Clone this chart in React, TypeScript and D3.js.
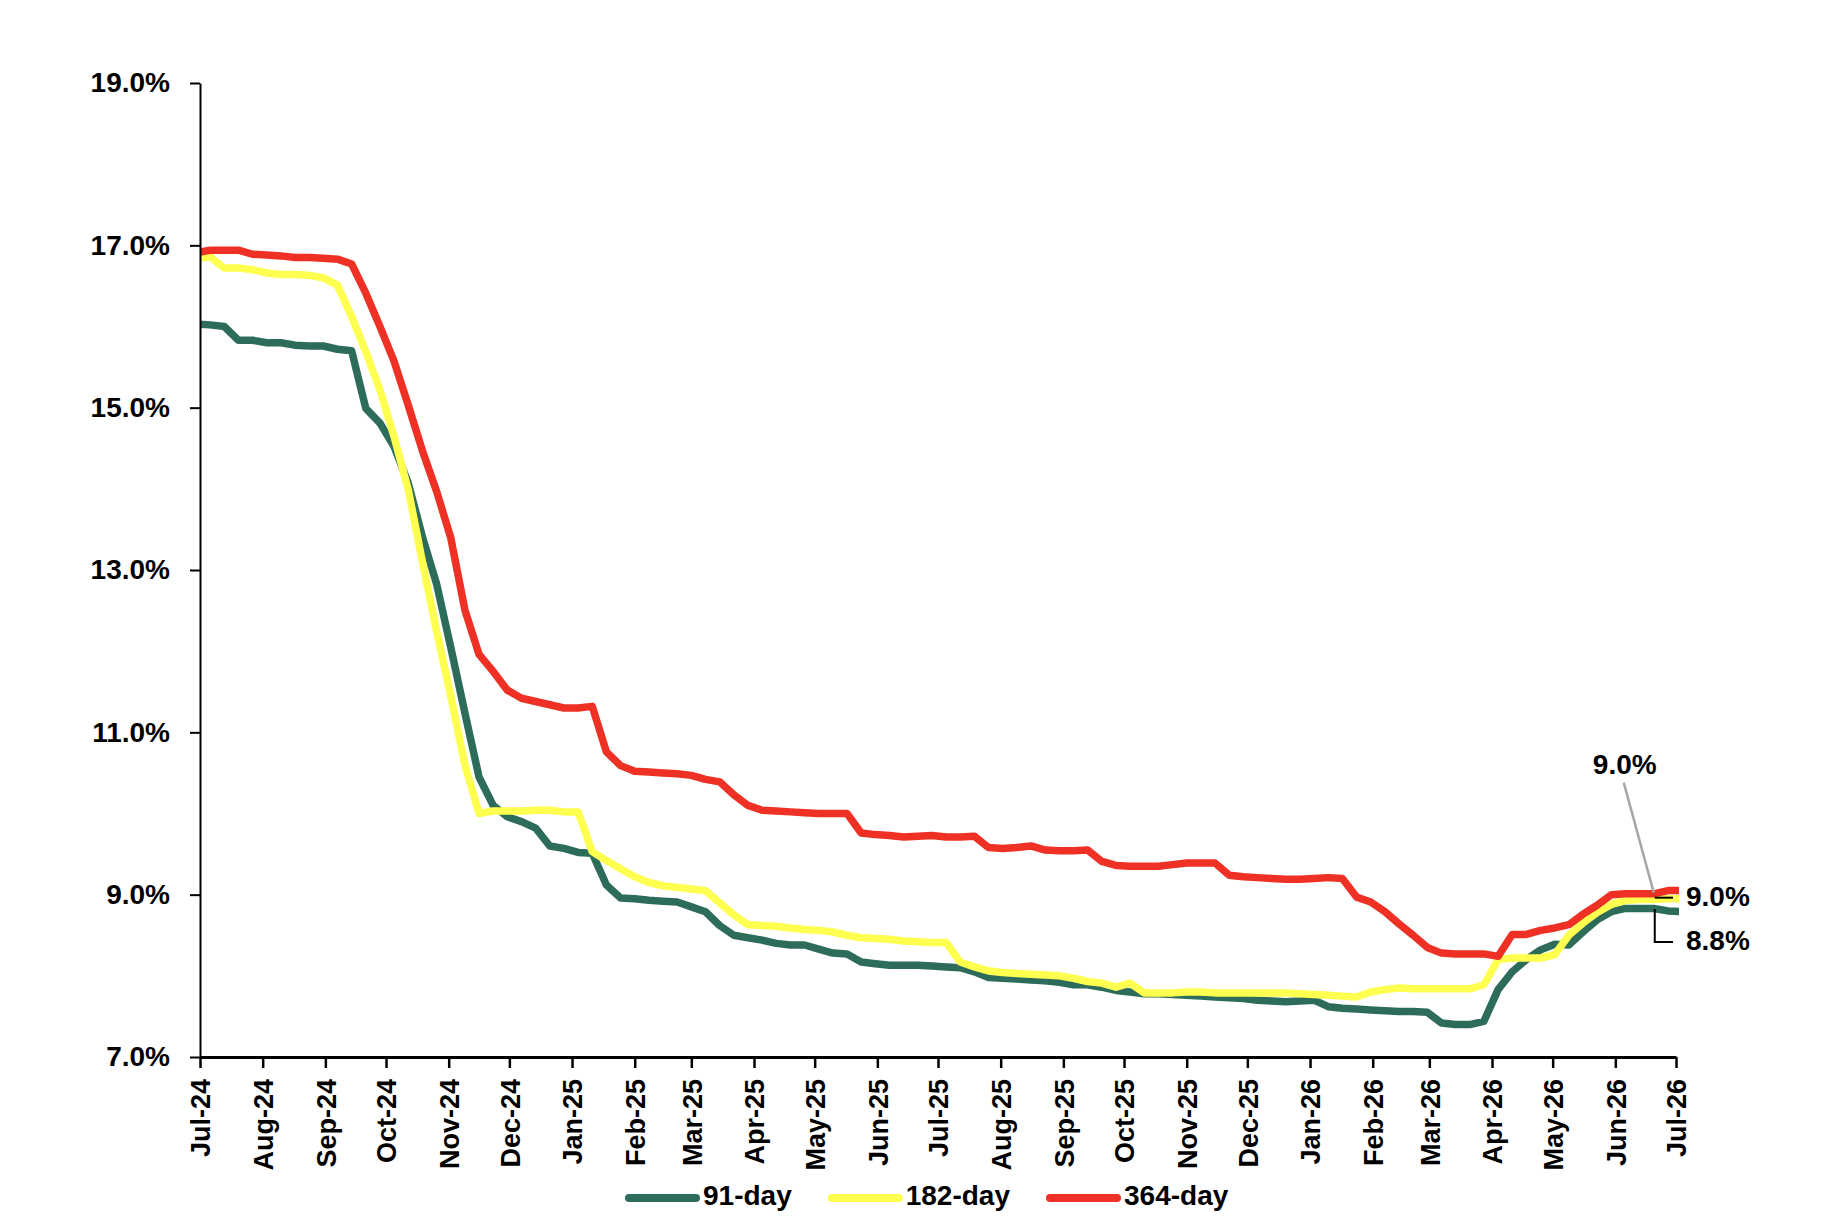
import { useEffect, useRef } from 'react';
import * as d3 from 'd3';

// weekly auction results, first value is the week ending 29 Jun 2024
const FIRST_AUCTION = '2024-06-29';
const X_START = '2024-07-01';
const X_END = '2026-07-01';

const rate91 = [
  16.03, 16.02, 16.0, 15.83, 15.83, 15.8, 15.8, 15.77, 15.76, 15.76,
  15.72, 15.7, 14.99, 14.81, 14.52, 14.07, 13.41, 12.83, 12.05, 11.24,
  10.45, 10.1, 9.96, 9.9, 9.82, 9.6, 9.57, 9.52, 9.51, 9.12,
  8.96, 8.95, 8.93, 8.92, 8.91, 8.85, 8.79, 8.62, 8.5, 8.47,
  8.44, 8.4, 8.38, 8.38, 8.33, 8.28, 8.27, 8.17, 8.15, 8.13,
  8.13, 8.13, 8.12, 8.11, 8.1, 8.05, 7.98, 7.97, 7.96, 7.95,
  7.94, 7.92, 7.89, 7.89, 7.86, 7.82, 7.8, 7.78, 7.78, 7.77,
  7.76, 7.75, 7.74, 7.73, 7.72, 7.7, 7.69, 7.68, 7.69, 7.7,
  7.62, 7.6, 7.59, 7.58, 7.57, 7.56, 7.56, 7.55, 7.42, 7.4,
  7.4, 7.44, 7.83, 8.05, 8.2, 8.32, 8.39, 8.38, 8.54, 8.69,
  8.79, 8.83, 8.83, 8.83, 8.8, 8.79,
];

const rate182 = [
  16.84, 16.86, 16.72, 16.72, 16.7, 16.66, 16.64, 16.64, 16.63, 16.6,
  16.51, 16.12, 15.69, 15.22, 14.64, 13.99, 13.1, 12.25, 11.45, 10.6,
  10.0, 10.03, 10.03, 10.03, 10.04, 10.04, 10.02, 10.02, 9.53, 9.42,
  9.32, 9.22, 9.15, 9.11, 9.09, 9.07, 9.05, 8.9, 8.75, 8.63,
  8.62, 8.61, 8.59, 8.57, 8.56, 8.54, 8.5, 8.47, 8.46, 8.45,
  8.43, 8.42, 8.41, 8.41, 8.17, 8.11, 8.06, 8.04, 8.03, 8.02,
  8.01, 8.0, 7.97, 7.93, 7.91, 7.86, 7.91, 7.79, 7.79, 7.79,
  7.8, 7.8, 7.79, 7.79, 7.79, 7.79, 7.79, 7.79, 7.78, 7.77,
  7.76, 7.75, 7.74, 7.8, 7.83, 7.85, 7.84, 7.84, 7.84, 7.84,
  7.84, 7.89, 8.2, 8.22, 8.22, 8.22, 8.26, 8.5, 8.65, 8.78,
  8.88, 8.93, 8.94, 8.94, 8.95, 8.95,
];

const rate364 = [
  16.91, 16.94, 16.94, 16.94, 16.89, 16.88, 16.87, 16.85, 16.85, 16.84,
  16.83, 16.77, 16.41, 16.0, 15.57, 15.03, 14.47, 13.97, 13.4, 12.51,
  11.96, 11.75, 11.52, 11.42, 11.38, 11.34, 11.3, 11.3, 11.32, 10.76,
  10.59, 10.52, 10.51, 10.5, 10.49, 10.47, 10.42, 10.39, 10.23, 10.1,
  10.04, 10.03, 10.02, 10.01, 10.0, 10.0, 10.0, 9.76, 9.74, 9.73,
  9.71, 9.72, 9.73, 9.71, 9.71, 9.72, 9.58, 9.57, 9.58, 9.6,
  9.55, 9.54, 9.54, 9.55, 9.41, 9.36, 9.35, 9.35, 9.35, 9.37,
  9.39, 9.39, 9.39, 9.24, 9.22, 9.21, 9.2, 9.19, 9.19, 9.2,
  9.21, 9.2, 8.97, 8.91, 8.79, 8.64, 8.5, 8.35, 8.28, 8.27,
  8.27, 8.27, 8.24, 8.51, 8.51, 8.56, 8.59, 8.63, 8.76, 8.87,
  9.0, 9.01, 9.01, 9.01, 9.05, 9.05,
];

const seriesNames = ['91-day', '182-day', '364-day'];
const seriesColors = ['#2D6B5B', '#FFFF4F', '#EE3124'];
const yTicks = [7, 9, 11, 13, 15, 17, 19];

// end-of-period callouts
const calloutDate = '2026-06-20';
const callout182 = { value: 9.0, text: '9.0%' };
const callout364 = { value: 9.0, text: '9.0%' };
const callout91 = { value: 8.8, text: '8.8%' };

const FONT = '"Liberation Sans", Arial, sans-serif';

export default function App() {
  const svgRef = useRef<SVGSVGElement>(null);

  useEffect(() => {
    if (!svgRef.current) return;
    const svg = d3.select(svgRef.current);
    svg.selectAll('*').remove();

    const parse = d3.timeParse('%Y-%m-%d');
    const first = parse(FIRST_AUCTION) as Date;
    const dates = rate91.map((_, i) => d3.timeDay.offset(first, 7 * i));

    const left = 200;
    const right = 1676;
    const top = 83;
    const bottom = 1057;

    const x = d3.scaleTime()
      .domain([parse(X_START) as Date, parse(X_END) as Date])
      .range([left, right]);

    const y = d3.scaleLinear()
      .domain([7, 19])
      .range([bottom, top]);

    svg.append('defs')
      .append('clipPath')
      .attr('id', 'plot-clip')
      .append('rect')
      .attr('x', left)
      .attr('y', top - 20)
      .attr('width', right - left + 3)
      .attr('height', bottom - top + 20);

    // Lines
    const series = [rate91, rate182, rate364];
    const line = d3.line<number>()
      .x((_, i) => x(dates[i]))
      .y(d => y(d));

    const lines = svg.append('g').attr('clip-path', 'url(#plot-clip)');
    series.forEach((vals, s) => {
      lines.append('path')
        .datum(vals)
        .attr('fill', 'none')
        .attr('stroke', seriesColors[s])
        .attr('stroke-width', 7.5)
        .attr('stroke-linejoin', 'round')
        .attr('d', line);
    });

    // Y Axis
    const yAxis = svg.append('g')
      .attr('transform', `translate(${left},0)`)
      .call(
        d3.axisLeft(y)
          .tickValues(yTicks)
          .tickFormat(d => `${(d as number).toFixed(1)}%`)
          .tickSize(10)
          .tickSizeOuter(0)
          .tickPadding(20)
      );
    yAxis.select('.domain').attr('stroke', '#000').attr('stroke-width', 2);
    yAxis.selectAll('.tick line').attr('stroke', '#000').attr('stroke-width', 2);
    yAxis.selectAll('text')
      .style('font-family', FONT)
      .style('font-size', '28px')
      .style('font-weight', 'bold')
      .style('fill', '#000');

    // X Axis
    const xAxis = svg.append('g')
      .attr('transform', `translate(0,${bottom})`)
      .call(
        d3.axisBottom(x)
          .ticks(d3.timeMonth.every(1))
          .tickFormat(d3.timeFormat('%b-%y') as never)
          .tickSize(11)
          .tickSizeOuter(0)
      );
    xAxis.select('.domain').attr('stroke', '#000').attr('stroke-width', 3);
    xAxis.selectAll('.tick line').attr('stroke', '#000').attr('stroke-width', 2.5);
    xAxis.selectAll('text')
      .attr('transform', 'rotate(-90)')
      .attr('x', -22)
      .attr('y', 0)
      .attr('dy', '0.36em')
      .attr('text-anchor', 'end')
      .style('font-family', FONT)
      .style('font-size', '27px')
      .style('font-weight', 'bold')
      .style('fill', '#000');

    // Callouts
    const ax = x(parse(calloutDate) as Date);
    const ann = svg.append('g')
      .style('font-family', FONT)
      .style('font-size', '28px')
      .style('font-weight', 'bold')
      .style('fill', '#000');

    svg.append('line')
      .attr('x1', ax - 30)
      .attr('y1', y(callout182.value) - 112)
      .attr('x2', ax)
      .attr('y2', y(callout182.value) - 2)
      .attr('stroke', '#A6A6A6')
      .attr('stroke-width', 2.5);

    ann.append('text')
      .attr('x', ax - 29)
      .attr('y', y(callout182.value) - 128)
      .attr('text-anchor', 'middle')
      .attr('dominant-baseline', 'middle')
      .text(callout182.text);

    svg.append('line')
      .attr('x1', ax + 1)
      .attr('y1', y(callout364.value) + 3)
      .attr('x2', right - 3)
      .attr('y2', y(callout364.value) + 3)
      .attr('stroke', '#000')
      .attr('stroke-width', 2);

    ann.append('text')
      .attr('x', right + 10)
      .attr('y', y(callout364.value) + 4)
      .attr('dominant-baseline', 'middle')
      .text(callout364.text);

    svg.append('path')
      .attr('d', `M${ax + 1},${y(callout91.value) - 2}V${y(callout91.value) + 31}H${right - 3}`)
      .attr('fill', 'none')
      .attr('stroke', '#000')
      .attr('stroke-width', 2);

    ann.append('text')
      .attr('x', right + 10)
      .attr('y', y(callout91.value) + 32)
      .attr('dominant-baseline', 'middle')
      .text(callout91.text);

    // Legend
    const legend = svg.append('g').attr('transform', 'translate(625,1198)');
    let cursor = 0;
    seriesNames.forEach((name, s) => {
      legend.append('line')
        .attr('x1', cursor + 4)
        .attr('x2', cursor + 71)
        .attr('y1', 0)
        .attr('y2', 0)
        .attr('stroke', seriesColors[s])
        .attr('stroke-width', 8)
        .attr('stroke-linecap', 'round');
      const label = legend.append('text')
        .attr('x', cursor + 78)
        .attr('y', 0)
        .attr('dominant-baseline', 'middle')
        .style('font-family', FONT)
        .style('font-size', '28px')
        .style('font-weight', 'bold')
        .style('fill', '#000')
        .text(name);
      const w = (label.node() as SVGTextElement).getComputedTextLength();
      cursor += 78 + w + 36;
    });
  }, []);

  return (
    <svg
      ref={svgRef}
      width={1840}
      height={1232}
      style={{ position: 'absolute', left: 0, top: 0, background: '#fff' }}
    />
  );
}
